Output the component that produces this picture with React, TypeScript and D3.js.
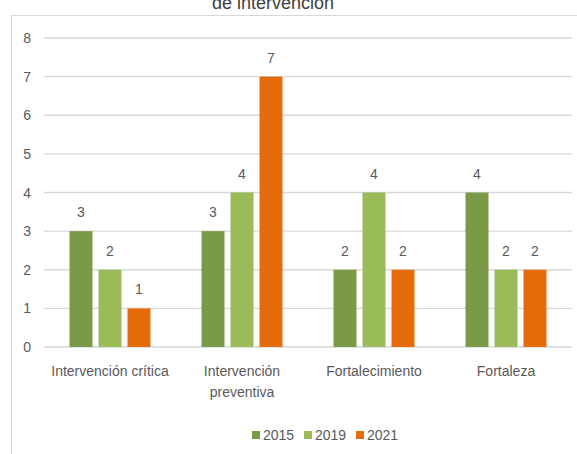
import React from 'react';
import * as d3 from 'd3';

const categories = [
  ['Intervención crítica'],
  ['Intervención', 'preventiva'],
  ['Fortalecimiento'],
  ['Fortaleza'],
];
const seriesNames = ['2015', '2019', '2021'];
const values2015 = [3, 3, 2, 4];
const values2019 = [2, 4, 4, 2];
const values2021 = [1, 7, 2, 2];
const yTicks = [0, 1, 2, 3, 4, 5, 6, 7, 8];
const colors = ['#7A9A48', '#9BBB59', '#E46C0A'];

const W = 577;
const H = 454;
const FONT = '"Liberation Sans Narrow", "Arial Narrow", sans-serif';
const TEXT = '#595959';

const App = () => {
  const series = [values2015, values2019, values2021];
  const catKeys = categories.map((c) => c.join(' '));

  const x0 = d3.scaleBand().domain(catKeys).range([44, 572]).padding(0);
  const groupW = 81;
  const x1 = d3
    .scaleBand()
    .domain(seriesNames)
    .range([0, groupW])
    .paddingInner(6 / 29)
    .paddingOuter(0);
  const y = d3.scaleLinear().domain([0, 8]).range([347, 38]);

  return (
    <svg
      width={W}
      height={H}
      style={{ position: 'absolute', left: 0, top: 0, background: '#fff' }}
      fontFamily={FONT}
    >
      <rect x={0} y={0} width={W} height={H} fill="#fff" />
      {/* chart frame */}
      <rect x={11.5} y={15.5} width={W} height={H} fill="none" stroke="#d9d9d9" />
      <text x={273} y={9} textAnchor="middle" fontSize={18} fill="#404040">
        de intervención
      </text>

      {/* grid + y labels */}
      {yTicks.map((t) => (
        <g key={t}>
          <line x1={44} x2={572} y1={y(t)} y2={y(t)} stroke="#d9d9d9" strokeWidth={1.3} />
          <text x={31} y={y(t) + 5} textAnchor="end" fontSize={14} fill={TEXT}>
            {t}
          </text>
        </g>
      ))}

      {/* bars */}
      {catKeys.map((c, ci) => {
        const gx = (x0(c) as number) + (x0.bandwidth() - groupW) / 2;
        return (
          <g key={c} transform={`translate(${gx},0)`}>
            {series.map((vals, si) => {
              const bx = x1(seriesNames[si]) as number;
              const v = vals[ci];
              return (
                <g key={si}>
                  <rect
                    x={bx}
                    y={y(v)}
                    width={x1.bandwidth()}
                    height={y(0) - y(v)}
                    fill={colors[si]}
                  />
                  <text
                    x={bx + x1.bandwidth() / 2}
                    y={y(v) - 14}
                    textAnchor="middle"
                    fontSize={14}
                    fill={TEXT}
                  >
                    {v}
                  </text>
                </g>
              );
            })}
          </g>
        );
      })}

      {/* category labels */}
      {categories.map((lines, ci) => {
        const cx = (x0(catKeys[ci]) as number) + x0.bandwidth() / 2;
        return (
          <text key={ci} textAnchor="middle" fontSize={14} fill={TEXT}>
            {lines.map((l, li) => (
              <tspan key={li} x={cx} y={376 + li * 21}>
                {l}
              </tspan>
            ))}
          </text>
        );
      })}

      {/* legend */}
      {seriesNames.map((s, si) => {
        const lx = [252, 304, 356][si];
        return (
          <g key={s}>
            <rect x={lx} y={431} width={8} height={8} fill={colors[si]} />
            <text x={lx + 11} y={440} fontSize={14} fill={TEXT}>
              {s}
            </text>
          </g>
        );
      })}
    </svg>
  );
};

export default App;
